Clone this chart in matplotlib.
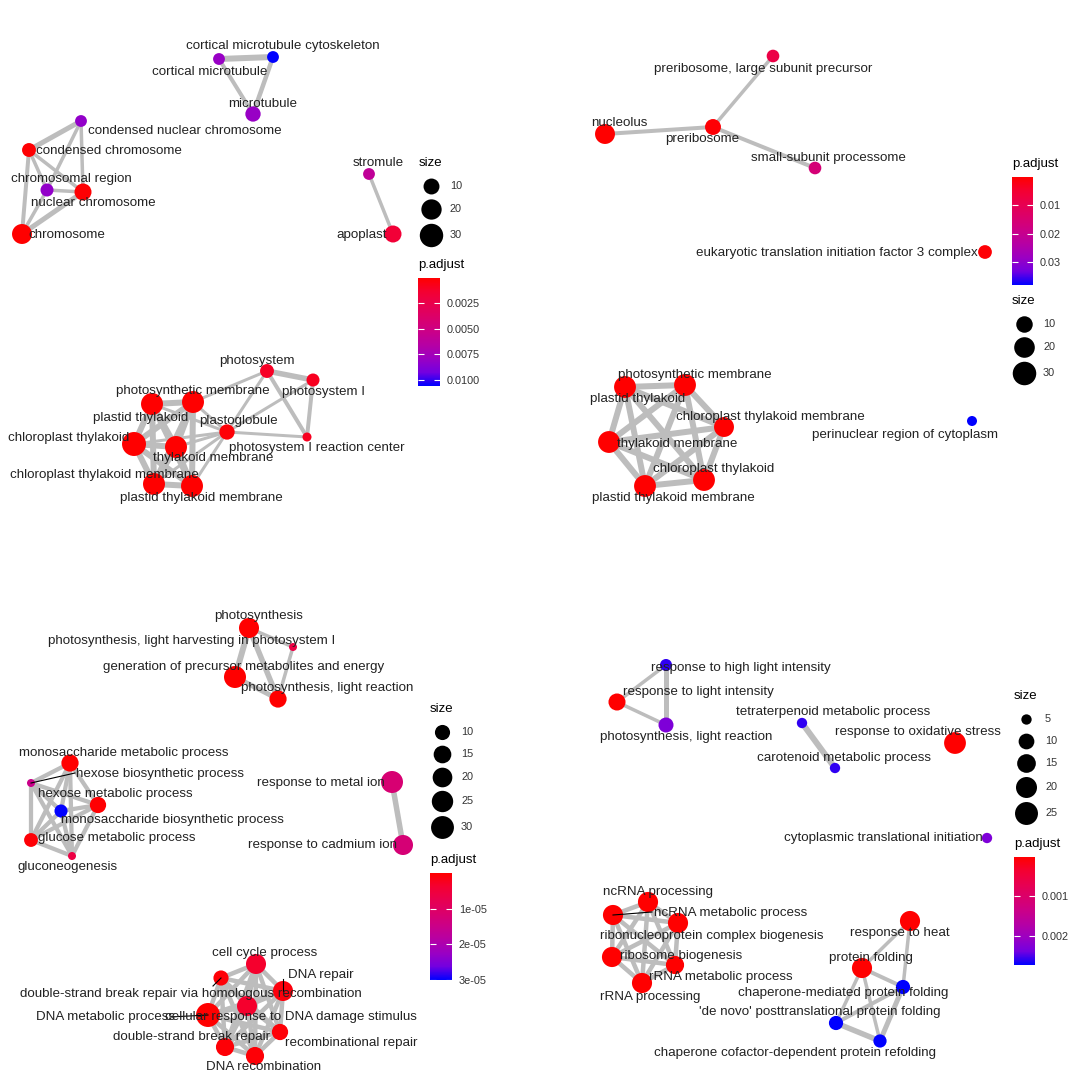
import matplotlib
matplotlib.use('Agg')
import matplotlib.pyplot as plt
import numpy as np
from itertools import combinations
from matplotlib.colors import LinearSegmentedColormap, Normalize
from matplotlib.cm import ScalarMappable

W, H = 1085, 1071

# ---- panel 1 : cellular component (top left) ----
terms1 = ["cortical microtubule cytoskeleton", "cortical microtubule", "microtubule",
          "condensed nuclear chromosome", "condensed chromosome", "chromosomal region",
          "nuclear chromosome", "chromosome", "stromule", "apoplast", "photosystem",
          "photosystem I", "photosynthetic membrane", "plastid thylakoid", "plastoglobule",
          "photosystem I reaction center", "chloroplast thylakoid", "thylakoid membrane",
          "chloroplast thylakoid membrane", "plastid thylakoid membrane"]
x1 = [273, 219, 253, 81, 29, 47, 83, 22, 369, 393, 267, 313, 193, 152, 227, 307, 134, 176, 154, 192]
y1 = [57, 59, 114, 121, 150, 190, 192, 234, 174, 234, 371, 380, 402, 404, 432, 437, 444, 447, 484, 486]
count1 = [5, 5, 9, 5, 7, 6, 12, 19, 5, 12, 7, 6, 25, 25, 9, 4, 32, 25, 25, 25]
padj1 = [0.0106, 0.0080, 0.0080, 0.0082, 1e-4, 0.0082, 1e-4, 1e-5, 0.0060, 0.0016,
         0.0010, 0.0009, 1e-8, 1e-8, 2e-4, 0.0009, 1e-8, 1e-8, 1e-8, 1e-8]
lx1 = [283, 210, 263, 185, 109, 71, 93, 67, 378, 362, 257, 323, 193, 141, 238, 317, 69, 213, 104, 201]
ly1 = [46, 72, 104, 131, 151, 179, 203, 235, 163, 235, 361, 392, 391, 418, 421, 448, 438, 458, 475, 498]
edges1 = [(0, 1, 0.8), (1, 2, 0.4), (0, 2, 0.5),
          (3, 4, 0.6), (3, 5, 0.3), (3, 6, 0.3), (4, 5, 0.3), (4, 6, 0.3), (4, 7, 0.4),
          (5, 6, 0.3), (5, 7, 0.3), (6, 7, 0.6), (8, 9, 0.3),
          (10, 11, 0.7), (10, 15, 0.4), (11, 15, 0.4), (10, 14, 0.2), (11, 14, 0.2),
          (10, 12, 0.2), (14, 15, 0.2)]
edges1 += [(a, b, 0.8) for a, b in combinations([12, 13, 16, 17, 18, 19], 2)]
edges1 += [(14, b, 0.2) for b in [12, 13, 16, 17, 18, 19]]
segs1 = []

# ---- panel 2 : cellular component (top right) ----
terms2 = ["preribosome, large subunit precursor", "nucleolus", "preribosome",
          "small-subunit processome", "eukaryotic translation initiation factor 3 complex",
          "photosynthetic membrane", "plastid thylakoid", "chloroplast thylakoid membrane",
          "thylakoid membrane", "chloroplast thylakoid", "plastid thylakoid membrane",
          "perinuclear region of cytoplasm"]
x2 = [773, 605, 713, 815, 985, 685, 625, 724, 609, 704, 645, 972]
y2 = [56, 134, 127, 168, 252, 385, 387, 427, 442, 480, 486, 421]
count2 = [5, 18, 9, 5, 6, 24, 24, 18, 24, 24, 24, 4]
padj2 = [0.008, 1e-4, 5e-4, 0.016, 5e-4, 1e-7, 1e-7, 1e-7, 1e-7, 1e-7, 1e-7, 0.038]
lx2 = [763, 619, 702, 828, 837, 695, 638, 770, 677, 714, 673, 905]
ly2 = [69, 123, 139, 158, 253, 375, 399, 417, 444, 469, 498, 435]
edges2 = [(1, 2, 0.4), (0, 2, 0.3), (2, 3, 0.4)]
edges2 += [(a, b, 0.8) for a, b in combinations(range(5, 11), 2)]
segs2 = []

# ---- panel 3 : biological process (bottom left) ----
terms3 = ["photosynthesis", "photosynthesis, light harvesting in photosystem I",
          "generation of precursor metabolites and energy", "photosynthesis, light reaction",
          "monosaccharide metabolic process", "hexose biosynthetic process",
          "hexose metabolic process", "monosaccharide biosynthetic process",
          "glucose metabolic process", "gluconeogenesis", "response to metal ion",
          "response to cadmium ion", "cell cycle process",
          "double-strand break repair via homologous recombination", "DNA repair",
          "cellular response to DNA damage stimulus", "DNA metabolic process",
          "double-strand break repair", "recombinational repair", "DNA recombination"]
x3 = [249, 293, 235, 278, 70, 31, 98, 61, 31, 72, 392, 403, 256, 221, 283, 247, 208, 225, 280, 255]
y3 = [628, 647, 677, 699, 763, 783, 805, 811, 840, 856, 782, 845, 964, 978, 991, 1006, 1015, 1047, 1032, 1056]
count3 = [21, 4, 27, 14, 14, 4, 12, 7, 8, 4, 27, 21, 21, 10, 21, 21, 34, 16, 12, 16]
padj3 = [1e-9, 6e-6, 1e-9, 1e-7, 1e-7, 1.5e-5, 2e-7, 3e-5, 5e-7, 6e-6, 1.2e-5, 1.25e-5,
         3.5e-6, 5e-7, 1e-6, 3.5e-6, 1e-9, 5e-7, 5e-7, 5e-7]
lx3 = [259, 192, 244, 327, 124, 160, 115, 172, 117, 68, 321, 323, 265, 191, 321, 291, 106, 192, 351, 264]
ly3 = [616, 641, 667, 688, 753, 774, 794, 820, 838, 867, 783, 845, 953, 994, 975, 1017, 1017, 1037, 1043, 1067]
edges3 = [(0, 2, 0.8), (0, 3, 0.7), (2, 3, 0.6), (0, 1, 0.3), (1, 3, 0.3), (10, 11, 0.7)]
edges3 += [(a, b, 0.45) for a, b in combinations(range(4, 10), 2)]
edges3 += [(a, b, 0.5) for a, b in combinations(range(12, 20), 2)]
segs3 = [(5, 75, 773), (13, 213, 986), (14, 283, 979), (16, 170, 1017)]

# ---- panel 4 : biological process (bottom right) ----
terms4 = ["response to high light intensity", "response to light intensity",
          "photosynthesis, light reaction", "tetraterpenoid metabolic process",
          "carotenoid metabolic process", "response to oxidative stress",
          "cytoplasmic translational initiation", "ncRNA processing", "ncRNA metabolic process",
          "ribonucleoprotein complex biogenesis", "ribosome biogenesis", "rRNA metabolic process",
          "rRNA processing", "response to heat", "protein folding",
          "chaperone-mediated protein folding", "'de novo' posttranslational protein folding",
          "chaperone cofactor-dependent protein refolding"]
x4 = [666, 617, 666, 802, 835, 955, 987, 648, 613, 678, 612, 675, 642, 910, 862, 903, 836, 880]
y4 = [665, 702, 725, 723, 768, 743, 838, 902, 915, 923, 957, 965, 983, 921, 968, 987, 1023, 1041]
count4 = [6, 12, 9, 5, 5, 22, 5, 18, 18, 18, 18, 14, 18, 18, 18, 8, 8, 7]
padj4 = [0.0026, 1e-5, 0.0023, 0.0026, 0.0026, 1e-6, 0.0023, 1e-8, 1e-8, 1e-8, 1e-8, 1e-8,
         1e-8, 1e-5, 1e-5, 0.00274, 0.00274, 0.00274]
lx4 = [741, 698, 686, 833, 844, 918, 883, 658, 731, 712, 681, 721, 650, 900, 871, 843, 820, 795]
ly4 = [668, 692, 737, 712, 758, 732, 838, 892, 913, 936, 956, 977, 997, 933, 958, 993, 1012, 1053]
edges4 = [(0, 1, 0.3), (0, 2, 0.6), (1, 2, 0.3), (3, 4, 0.8),
          (13, 14, 0.3), (13, 15, 0.3), (14, 15, 0.4), (14, 16, 0.3), (14, 17, 0.3),
          (15, 16, 0.4), (15, 17, 0.6), (16, 17, 0.7)]
edges4 += [(a, b, 0.5) for a, b in combinations(range(7, 13), 2)]
segs4 = [(8, 652, 912)]

# legend breaks / colorbar ticks
size_breaks = [[10, 20, 30], [10, 20, 30], [10, 15, 20, 25, 30], [5, 10, 15, 20, 25]]
cb_ticks = [[0.0025, 0.005, 0.0075, 0.01], [0.01, 0.02, 0.03], [1e-5, 2e-5, 3e-5], [0.001, 0.002]]
cb_labels = [["0.0025", "0.0050", "0.0075", "0.0100"], ["0.01", "0.02", "0.03"],
             ["1e-05", "2e-05", "3e-05"], ["0.001", "0.002"]]

# size scale (lo, hi, min diameter px, max diameter px) for each panel
size_scale = [(4, 36, 9, 25), (4, 36, 10, 25), (4, 36, 8, 24.5), (4.5, 28, 8, 24)]
# legend placement in pixels: size (x, title y), colorbar (x0, x1, y0, y1)
size_leg = [(419, 163), (1012, 301), (430, 709), (1014, 696)]
cbar_leg = [(418, 440, 278, 386), (1012, 1033, 177, 285), (430, 452, 873, 980), (1014, 1035, 857, 965)]

# red -> blue gradient interpolated in Lab space (ggplot default look)
cmap = LinearSegmentedColormap.from_list('rb', ['#FF0000', '#F40031', '#E80050', '#DA006C', '#CA0089',
                                               '#B500A5', '#9A00C3', '#7300E0', '#0000FF'])

plt.rcParams['font.family'] = ['Liberation Sans', 'DejaVu Sans']
fig = plt.figure(figsize=(W / 100, H / 100), dpi=100)
ax = fig.add_axes([0, 0, 1, 1])
ax.set_xlim(0, W)
ax.set_ylim(H, 0)
ax.axis('off')

PX = 0.72  # points per pixel at 100 dpi


def diam(n, sc):
    lo, hi, dmin, dmax = sc
    n = np.asarray(n, dtype=float)
    return dmin + (dmax - dmin) * np.sqrt(np.clip((n - lo) / (hi - lo), 0, 1))


panels = [(terms1, x1, y1, count1, padj1, lx1, ly1, edges1, segs1),
          (terms2, x2, y2, count2, padj2, lx2, ly2, edges2, segs2),
          (terms3, x3, y3, count3, padj3, lx3, ly3, edges3, segs3),
          (terms4, x4, y4, count4, padj4, lx4, ly4, edges4, segs4)]

for k, (terms, xs, ys, cnt, padj, lx, ly, edges, segs) in enumerate(panels):
    norm = Normalize(vmin=0, vmax=max(padj))
    for a, b, sim in edges:
        ax.plot([xs[a], xs[b]], [ys[a], ys[b]], color='#bdbdbd', lw=(2 + 5 * sim) * PX,
                solid_capstyle='butt', zorder=1)
    d = diam(cnt, size_scale[k])
    ax.scatter(xs, ys, s=(d * PX) ** 2, c=padj, cmap=cmap, norm=norm, linewidths=0, zorder=2)
    for i, tx, ty in segs:
        ax.plot([xs[i], tx], [ys[i], ty], color='black', lw=0.8, zorder=3)
    for t, tx, ty in zip(terms, lx, ly):
        ax.text(tx, ty, t, ha='center', va='center', fontsize=9.6, color='#222222', zorder=4)

    # size legend
    sx, sy = size_leg[k]
    ax.text(sx, sy, 'size', ha='left', va='center', fontsize=9.5, color='black')
    bd = diam(size_breaks[k], size_scale[k])
    hts = np.maximum(22, bd + 4)
    cy = sy + 12
    for j, (br, dd) in enumerate(zip(size_breaks[k], bd)):
        cy += hts[j] / 2 if j == 0 else (hts[j - 1] + hts[j]) / 2
        ax.scatter([sx + 12], [cy], s=(dd * PX) ** 2, color='black', linewidths=0)
        ax.text(sx + 31, cy, str(br), ha='left', va='center', fontsize=7.8, color='#333333')

    # colorbar
    cx0, cx1, cy0, cy1 = cbar_leg[k]
    ax.text(cx0, cy0 - 13, 'p.adjust', ha='left', va='center', fontsize=9.5, color='black')
    cax = fig.add_axes([cx0 / W, 1 - cy1 / H, (cx1 - cx0) / W, (cy1 - cy0) / H])
    cb = fig.colorbar(ScalarMappable(norm=norm, cmap=cmap), cax=cax)
    cb.outline.set_visible(False)
    cb.set_ticks(cb_ticks[k], labels=cb_labels[k])
    cax.invert_yaxis()
    cax.tick_params(axis='y', which='both', direction='in', length=4, width=0.8, colors='white',
                    labelcolor='#333333', left=True, right=True, labelsize=7.8, pad=5)

fig.savefig('out.png', dpi=100, facecolor='white')
